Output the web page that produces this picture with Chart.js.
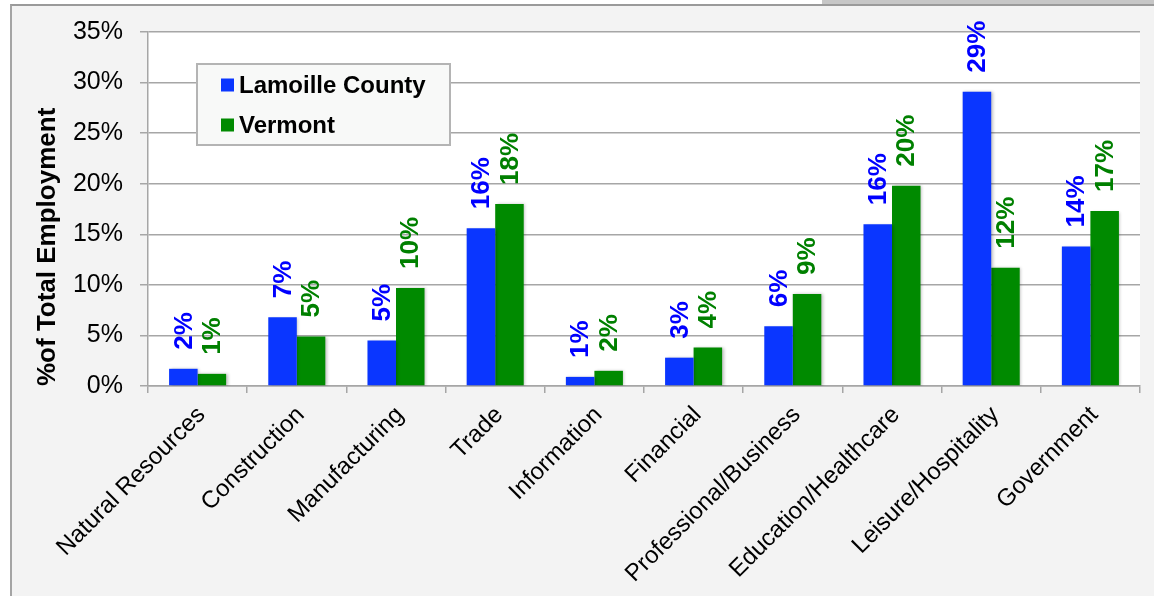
<!DOCTYPE html>
<html lang="en">
<head>
  <meta charset="UTF-8">
  <title>Employment by Sector - Lamoille County vs Vermont</title>
  <script src="https://cdn.jsdelivr.net/npm/chart.js@4.4.3/dist/chart.umd.min.js"></script>
  <style>
    html, body { margin: 0; padding: 0; background: #ffffff; overflow: hidden; }
    .top-strip {
      position: absolute; left: 822px; top: 0; width: 332px; height: 4px;
      background: #c6c6c6;
    }
    .frame {
      position: absolute; left: 10px; top: 4px; right: 0; bottom: 0;
      border-top: 2px solid #9a9a9a;
      border-left: 2px solid #a4a4a4;
      background: #f3f3f3;
    }
    #employmentChart { position: absolute; left: 0; top: 0; }
  </style>
</head>
<body>
  <div class="top-strip"></div>
  <div class="frame"></div>
  <canvas id="employmentChart" width="1154" height="596"></canvas>

  <script>
    const categories = [
      'Natural Resources', 'Construction', 'Manufacturing', 'Trade', 'Information',
      'Financial', 'Professional/Business', 'Education/Healthcare', 'Leisure/Hospitality', 'Government'
    ];
    const lamoilleShare = [1.7, 6.8, 4.5, 15.6, 0.9, 2.8, 5.9, 16.0, 29.1, 13.8];
    const vermontShare  = [1.2, 4.9, 9.7, 18.0, 1.5, 3.8, 9.1, 19.8, 11.7, 17.3];
    const seriesNames = ['Lamoille County', 'Vermont'];
    const barColors = ['#0a36ff', '#008a00'];
    const labelColors = ['#0000ff', '#008000'];

    // white plot background behind the grid
    const plotBackground = {
      id: 'plotBackground',
      beforeDraw(chart) {
        const { ctx, chartArea: a } = chart;
        ctx.save();
        ctx.fillStyle = '#ffffff';
        ctx.fillRect(a.left, a.top, a.right - a.left, a.bottom - a.top);
        ctx.restore();
      }
    };

    // soft drop shadow on the bars
    const barShadow = {
      id: 'barShadow',
      beforeDatasetsDraw(chart) {
        const ctx = chart.ctx;
        ctx.save();
        ctx.shadowColor = 'rgba(0,0,0,0.25)';
        ctx.shadowBlur = 3;
        ctx.shadowOffsetX = 1.5;
        ctx.shadowOffsetY = 0.5;
      },
      afterDatasetsDraw(chart) {
        chart.ctx.restore();
      }
    };

    // rotated value labels above each bar
    const valueLabels = {
      id: 'valueLabels',
      afterDatasetsDraw(chart) {
        const ctx = chart.ctx;
        ctx.save();
        ctx.font = 'bold 26px "Liberation Sans", Arial, sans-serif';
        ctx.textAlign = 'left';
        ctx.textBaseline = 'middle';
        chart.data.datasets.forEach((ds, di) => {
          const meta = chart.getDatasetMeta(di);
          ctx.fillStyle = labelColors[di];
          meta.data.forEach((bar, i) => {
            ctx.save();
            ctx.translate(bar.x + 1, bar.y - 19);
            ctx.rotate(-Math.PI / 2);
            ctx.fillText(Math.round(ds.data[i]) + '%', 0, 0);
            ctx.restore();
          });
        });
        ctx.restore();
      }
    };

    // boxed legend sitting inside the plot
    const boxLegend = {
      id: 'boxLegend',
      afterDraw(chart) {
        const { ctx, chartArea: a } = chart;
        const x = a.left + 49, y = a.top + 32, w = 253, h = 81;
        ctx.save();
        ctx.fillStyle = '#f8f9f8';
        ctx.fillRect(x, y, w, h);
        ctx.strokeStyle = '#b4b4b4';
        ctx.lineWidth = 2;
        ctx.strokeRect(x, y, w, h);
        ctx.font = 'bold 24px "Liberation Sans", Arial, sans-serif';
        ctx.textBaseline = 'middle';
        ctx.textAlign = 'left';
        chart.data.datasets.forEach((ds, i) => {
          const cy = y + 21 + i * 40;
          ctx.fillStyle = ds.backgroundColor;
          ctx.fillRect(x + 24, cy - 6.5, 13, 13);
          ctx.fillStyle = '#000000';
          ctx.fillText(ds.label, x + 42, cy + 1);
        });
        ctx.restore();
      }
    };

    new Chart(document.getElementById('employmentChart'), {
      type: 'bar',
      data: {
        labels: categories,
        datasets: [
          { label: seriesNames[0], data: lamoilleShare, backgroundColor: barColors[0] },
          { label: seriesNames[1], data: vermontShare, backgroundColor: barColors[1] }
        ]
      },
      options: {
        responsive: false,
        animation: false,
        layout: { padding: { left: 12, top: 30, right: 14, bottom: 0 } },
        datasets: {
          bar: { categoryPercentage: 0.575, barPercentage: 1.0 }
        },
        scales: {
          x: {
            afterFit(scale) { scale.height = 210; },
            grid: {
              offset: true,
              drawOnChartArea: false,
              tickLength: 7,
              color: '#a6a6a6',
              lineWidth: 1.5
            },
            border: { color: '#a6a6a6', width: 1.5 },
            ticks: {
              autoSkip: false,
              minRotation: 45,
              maxRotation: 45,
              padding: 8,
              labelOffset: 4,
              color: '#000000',
              font: { family: '"Liberation Sans", Arial, sans-serif', size: 24 }
            }
          },
          y: {
            min: 0,
            max: 35,
            afterFit(scale) { scale.width = 136; },
            grid: { color: '#a6a6a6', lineWidth: 1.5, tickLength: 8 },
            border: { color: '#a6a6a6', width: 1.5 },
            ticks: {
              stepSize: 5,
              padding: 17,
              color: '#000000',
              font: { family: '"Liberation Sans", Arial, sans-serif', size: 25 },
              callback: v => v + '%'
            },
            title: {
              display: true,
              text: '%of Total Employment',
              align: 'start',
              color: '#000000',
              padding: { top: 20, bottom: 0 },
              font: { family: '"Liberation Sans", Arial, sans-serif', size: 26, weight: 'bold' }
            }
          }
        },
        plugins: {
          legend: { display: false },
          tooltip: { enabled: false }
        }
      },
      plugins: [plotBackground, barShadow, valueLabels, boxLegend]
    });
  </script>
</body>
</html>
